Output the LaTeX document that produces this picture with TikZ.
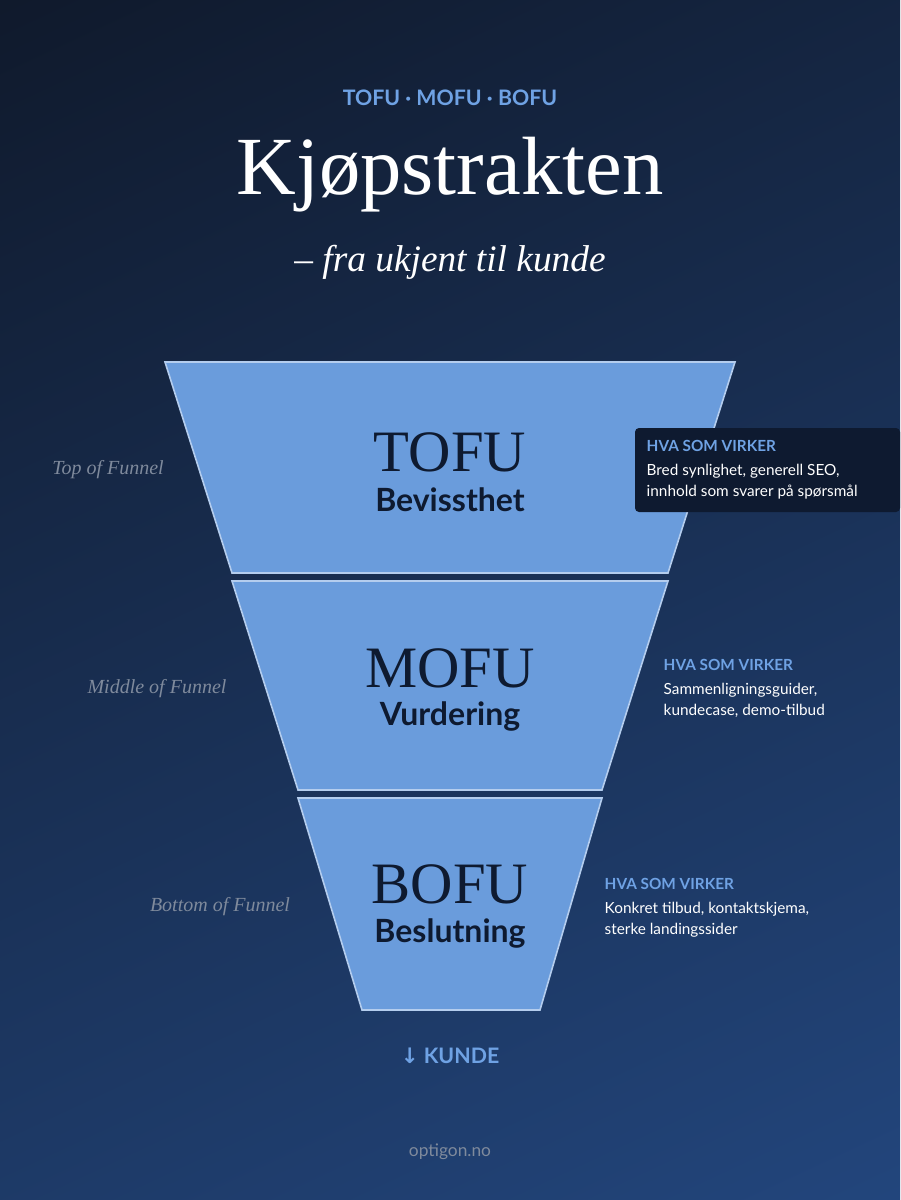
\documentclass[tikz,border=0pt]{standalone}
\usepackage{fontspec}
\setsansfont{Lato}
\newfontfamily\serifface{Liberation Serif}
\newfontfamily\arrowfont{DejaVu Sans}
\begin{document}
\begin{tikzpicture}[x=0.75pt,y=-0.75pt,
  stage/.style={fill=funnelblue,draw=funnelline,line width=1.2pt},
  big/.style={font=\fontsize{44}{48}\selectfont\serifface,text=navytext,anchor=center},
  sub/.style={font=\fontsize{24}{28}\selectfont\sffamily\bfseries,text=navytext,anchor=center},
  side/.style={font=\fontsize{15}{18}\selectfont\serifface\itshape,text=graytext,anchor=center},
  head/.style={font=\fontsize{11.5}{13}\selectfont\sffamily\bfseries,text=accent,anchor=west},
  body/.style={font=\fontsize{11.5}{16}\selectfont\sffamily,text=white,anchor=north west,align=left}]
\definecolor{funnelblue}{HTML}{6A9CDC}
\definecolor{funnelline}{HTML}{B4CDEE}
\definecolor{navytext}{HTML}{0E1A30}
\definecolor{graytext}{HTML}{7F8A9C}
\definecolor{accent}{HTML}{6FA2E4}
\definecolor{bgtop}{HTML}{0F1829}
\definecolor{bgbot}{HTML}{23477F}
\useasboundingbox (0,0) rectangle (900,1200);
\begin{scope}
\clip (0,0) rectangle (900,1200);
\shade[top color=bgtop,bottom color=bgbot,shading angle=25] (-300,-200) rectangle (1200,1400);
\end{scope}
% title
\node[font=\fontsize{16}{18}\selectfont\sffamily\bfseries,text=accent] (kicker) at (450,98) {TOFU · MOFU · BOFU};
\node[font=\fontsize{62}{66}\selectfont\serifface,text=white] (title) at (450,175) {Kjøpstrakten};
\node[font=\fontsize{28}{32}\selectfont\serifface\itshape,text=white] (subt) at (450,262) {– fra ukjent til kunde};
% funnel
\draw[stage] (165,362) -- (735,362) -- (668,573) -- (232,573) -- cycle;
\draw[stage] (232,581) -- (668,581) -- (602,790) -- (298,790) -- cycle;
\draw[stage] (298,798) -- (602,798) -- (540,1010) -- (362,1010) -- cycle;
\node[big] (t1) at (450,452) {TOFU};
\node[sub] (t2) at (450,500) {Bevissthet};
\node[big] (m1) at (450,668) {MOFU};
\node[sub] (m2) at (450,716) {Vurdering};
\node[big] (b1) at (450,884) {BOFU};
\node[sub] (b2) at (450,933) {Beslutning};
\node[side] (l1) at (108,470) {Top of Funnel};
\node[side] (l2) at (157,689) {Middle of Funnel};
\node[side] (l3) at (220,907) {Bottom of Funnel};
% right notes
\fill[navytext,rounded corners=3pt] (635,428) rectangle (900,512);
\node[head] (h1) at (642,446) {HVA SOM VIRKER};
\node[body] (d1) at (642,459) {Bred synlighet, generell SEO,\\innhold som svarer på spørsmål};
\node[head] (h2) at (659,665) {HVA SOM VIRKER};
\node[body] (d2) at (659,678) {Sammenligningsguider,\\kundecase, demo-tilbud};
\node[head] (h3) at (600,884) {HVA SOM VIRKER};
\node[body] (d3) at (600,897) {Konkret tilbud, kontaktskjema,\\sterke landingssider};
\node[font=\fontsize{16}{18}\selectfont\sffamily\bfseries,text=accent] (kunde) at (450,1056) {{\arrowfont ↓} KUNDE};
\node[font=\fontsize{13}{16}\selectfont\sffamily,text=graytext] (url) at (450,1152) {optigon.no};
\end{tikzpicture}
\end{document}
